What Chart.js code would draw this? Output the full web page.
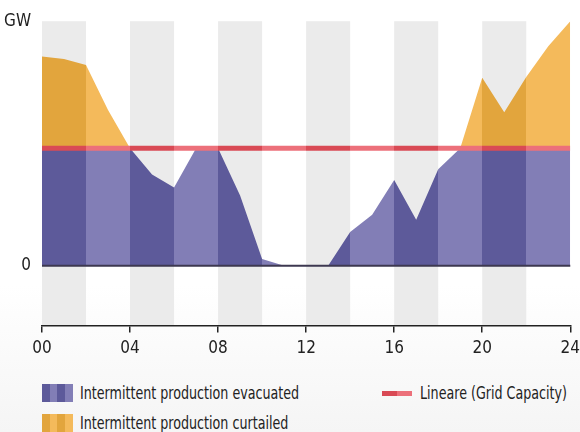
<!DOCTYPE html>
<html><head><meta charset="utf-8">
<script src="https://cdn.jsdelivr.net/npm/chart.js@4.4.0/dist/chart.umd.min.js"></script>
<style>
html,body{margin:0;padding:0;}
body{width:580px;height:432px;overflow:hidden;background:linear-gradient(to bottom,#fff 0,#fff 285px,#f5f5f5 432px);font-family:"Liberation Sans Narrow","DejaVu Sans Condensed",sans-serif;color:#222;}
#wrap{position:relative;width:580px;height:432px;overflow:hidden;}
#cw{position:absolute;left:0;top:0;width:586px;height:365px;}
.lg{position:absolute;display:flex;align-items:center;font-size:17px;white-space:nowrap;line-height:18px;}
.lg span{display:inline-block;transform:scaleX(0.83);transform-origin:0 50%;}
.sw{width:31px;height:18px;margin-right:7px;flex:none;}
.ln{width:30px;height:5px;margin-right:8px;flex:none;background:linear-gradient(to right,#d94a55 0,#d94a55 50%,#ec707a 50%,#ec707a 100%);}
</style></head>
<body>
<div id="wrap">
 <div id="cw"><canvas id="c"></canvas></div>
 <div class="lg" style="left:42px;top:384px;"><div class="sw" style="background:linear-gradient(to right,#5d5a9a 0,#5d5a9a 25%,#827eb6 25%,#827eb6 50%,#5d5a9a 50%,#5d5a9a 75%,#827eb6 75%);"></div><span>Intermittent production evacuated</span></div>
 <div class="lg" style="left:42px;top:414px;"><div class="sw" style="background:linear-gradient(to right,#e2a53d 0,#e2a53d 25%,#f4ba5b 25%,#f4ba5b 50%,#e2a53d 50%,#e2a53d 75%,#f4ba5b 75%);"></div><span>Intermittent production curtailed</span></div>
 <div class="lg" style="left:382px;top:384px;"><div class="ln"></div><span>Lineare (Grid Capacity)</span></div>
</div>
<script>
// ---- data ----
const hours      = [0,1,2,3,4,5,6,7,8,9,10,11,12,13,14,15,16,17,18,19,20,21,22,23,24];
const evacuated  = [48,48,48,48,48,37.3,32,48,48,28.7,2.7,0,0,0,13.8,20.8,35.1,18.8,39.4,48,48,48,48,48,48];
const production = [85.6,84.5,82.1,63.7,48,37.3,32,48,48,28.7,2.7,0,0,0,13.8,20.8,35.1,18.8,39.4,48,76.9,62.8,77.2,89.8,100];
const capacityHours = [0,24];
const capacity      = [48,48];
const xTicks = [0,4,8,12,16,20,24];
const yTicks = [0,100];
const yLabels = ['0','GW'];
const bandEdges = [0,2,4,6,8,10,12,14,16,18,20,22,24];

const FONT = '"Liberation Sans Narrow","DejaVu Sans Condensed",sans-serif';

function bandGrad(chart, cGray, cWhite){
  const ca = chart.chartArea;
  if(!ca) return cWhite;
  const xs = chart.scales.x;
  const g = chart.ctx.createLinearGradient(ca.left,0,ca.right,0);
  const w = ca.right-ca.left;
  const cl = v=>Math.max(0,Math.min(1,v));
  for(let i=0;i<bandEdges.length-1;i++){
    const a=(xs.getPixelForValue(bandEdges[i])-ca.left)/w;
    const b=(xs.getPixelForValue(bandEdges[i+1])-ca.left)/w;
    const c = i%2===0?cGray:cWhite;
    g.addColorStop(cl(a),c); g.addColorStop(cl(b),c);
  }
  return g;
}

const bandsPlugin = {
  id:'bands',
  beforeDraw(chart){
    const {ctx, chartArea:ca, scales:{x}} = chart;
    ctx.save();
    ctx.fillStyle='#ebebeb';
    for(let i=0;i<bandEdges.length-1;i+=2){
      const a=x.getPixelForValue(bandEdges[i]), b=x.getPixelForValue(bandEdges[i+1]);
      ctx.fillRect(a,ca.top,b-a,ca.bottom-ca.top);
    }
    ctx.restore();
  },
  afterDatasetsDraw(chart){
    const {ctx, chartArea:ca, scales:{y}} = chart;
    const y0 = y.getPixelForValue(0);
    ctx.save();
    ctx.strokeStyle='#3d3850';
    ctx.lineWidth=2;
    ctx.beginPath(); ctx.moveTo(ca.left,y0); ctx.lineTo(ca.right,y0); ctx.stroke();
    ctx.restore();
  }
};

new Chart(document.getElementById('c'),{
  type:'line',
  data:{
    datasets:[
      {label:'Lineare (Grid Capacity)', data:capacityHours.map((h,i)=>({x:h,y:capacity[i]})),
       borderColor:ctx=>bandGrad(ctx.chart,'#d94a55','#ec707a'), borderWidth:5, pointRadius:0, fill:false, order:0},
      {label:'Intermittent production evacuated', data:hours.map((h,i)=>({x:h,y:evacuated[i]})),
       backgroundColor:ctx=>bandGrad(ctx.chart,'#5d5a9a','#827eb6'), borderWidth:0, pointRadius:0, fill:'origin', order:2},
      {label:'Intermittent production curtailed', data:hours.map((h,i)=>({x:h,y:production[i]})),
       backgroundColor:ctx=>bandGrad(ctx.chart,'#e2a53d','#f4ba5b'), borderWidth:0, pointRadius:0, fill:'-1', order:1}
    ]
  },
  options:{
    responsive:true, maintainAspectRatio:false, animation:false,
    layout:{padding:{top:14,right:0,left:0,bottom:0}},
    plugins:{legend:{display:false}, tooltip:{enabled:false}},
    elements:{line:{tension:0}},
    scales:{
      x:{type:'linear', min:0, max:24,
        afterBuildTicks:s=>{s.ticks=xTicks.map(v=>({value:v}));},
        ticks:{color:'#222', font:{family:FONT,size:17}, padding:6, maxRotation:0, autoSkip:false,
          callback:v=>String(v).padStart(2,'0')},
        grid:{drawOnChartArea:false, drawTicks:true, tickLength:7, color:'#222', lineWidth:1.5},
        border:{display:true, color:'#222', width:1.5}
      },
      y:{type:'linear', min:-24.5, max:100,
        afterBuildTicks:s=>{s.ticks=yTicks.map(v=>({value:v}));},
        afterFit:s=>{s.width=42;},
        ticks:{color:'#222', font:{family:FONT,size:17}, padding:11,
          callback:v=>yLabels[yTicks.indexOf(v)]},
        grid:{display:false, drawTicks:false},
        border:{display:false}
      }
    }
  },
  plugins:[bandsPlugin]
});
</script>
</body></html>
